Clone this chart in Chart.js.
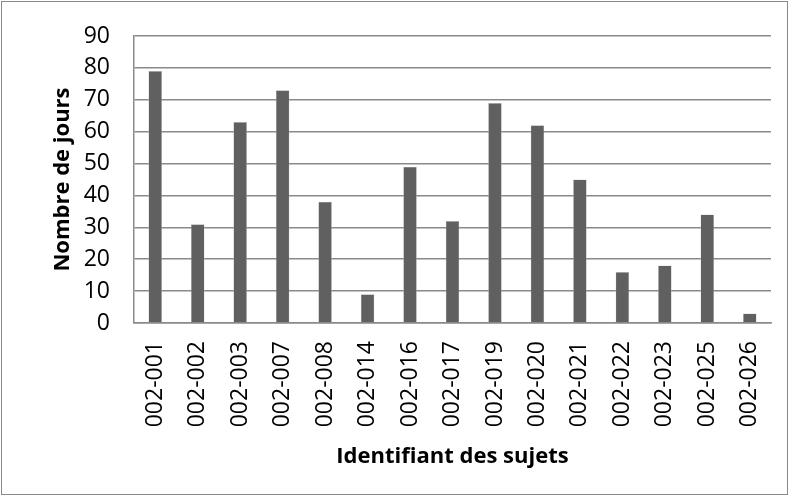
<!DOCTYPE html>
<html>
<head>
<meta charset="utf-8">
<script src="https://cdn.jsdelivr.net/npm/chart.js@4/dist/chart.umd.min.js"></script>
<style>
html,body{margin:0;padding:0;background:#fff;}
#wrap{position:absolute;left:0;top:0;width:790px;height:497px;}
#frame{position:absolute;left:1px;top:1px;width:785px;height:492px;border:1px solid #8a8a8a;box-sizing:content-box;pointer-events:none;}
</style>
</head>
<body>
<div id="wrap"><canvas id="c" width="790" height="497"></canvas></div>
<div id="frame"></div>
<script>
const categories = ["002-001","002-002","002-003","002-007","002-008","002-014","002-016","002-017","002-019","002-020","002-021","002-022","002-023","002-025","002-026"];
const days = [79,31,63,73,38,9,49,32,69,62,45,16,18,34,3];
const yTicks = [0,10,20,30,40,50,60,70,80,90];
const xTitle = "Identifiant des sujets";
const yTitle = "Nombre de jours";

const FONT = "'Open Sans', sans-serif";

new Chart(document.getElementById('c'), {
  type: 'bar',
  data: {
    labels: categories,
    datasets: [{
      data: days,
      backgroundColor: '#606060',
      borderColor: '#c8c8c8',
      borderWidth: {left:0.5,right:0.5,top:0.5,bottom:0},
      barPercentage: 0.32,
      categoryPercentage: 1.0
    }]
  },
  options: {
    responsive: false,
    animation: false,
    devicePixelRatio: 1,
    layout: { padding: { left: 50, right: 19, top: 36, bottom: 27 } },
    plugins: { legend: { display: false }, tooltip: { enabled: false } },
    scales: {
      x: {
        grid: { display: false, drawTicks: false },
        border: { display: true, color: '#8a8a8a', width: 1.5 },
        ticks: {
          color: '#000',
          font: { family: FONT, size: 23 },
          minRotation: 90, maxRotation: 90,
          autoSkip: false,
          padding: 18
        },
        title: {
          display: true, text: xTitle, color: '#000',
          font: { family: FONT, size: 22, weight: 'bold' },
          padding: { top: 10, bottom: 0 }
        },
        afterFit: (s) => { s.height = 497 - 323 - 27; s.paddingLeft = 0; s.paddingRight = 0; }
      },
      y: {
        min: 0, max: 90,
        afterBuildTicks: (s) => { s.ticks = yTicks.map(v => ({ value: v })); },
        grid: { color: '#8a8a8a', lineWidth: 1.5, drawTicks: false },
        border: { display: true, color: '#8a8a8a', width: 1.5 },
        ticks: {
          color: '#000',
          font: { family: FONT, size: 23 },
          padding: 24
        },
        title: {
          display: true, text: yTitle, color: '#000',
          font: { family: FONT, size: 22, weight: 'bold' },
          padding: { top: 0, bottom: 0 }
        },
        afterFit: (s) => { s.width = 134 - 50; s.paddingTop = 0; s.paddingBottom = 0; }
      }
    }
  }
});
</script>
</body>
</html>
